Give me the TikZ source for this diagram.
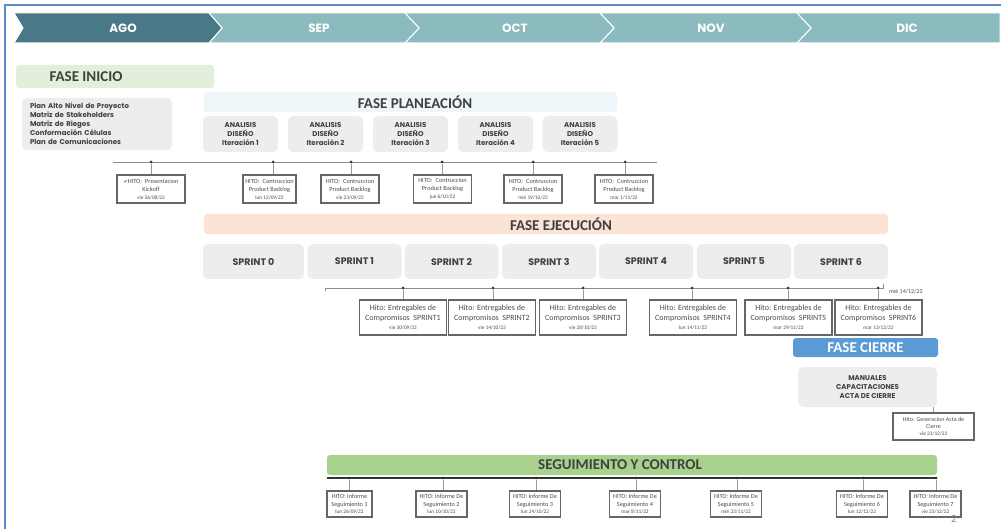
\documentclass[tikz,border=0pt]{standalone}
\usepackage{fontspec}
\setmainfont{Carlito}
\newfontfamily\gothic{Poppins}
\newfontfamily\symfont{DejaVu Sans}
\usepackage{tikz}
\definecolor{agodark}{RGB}{73,120,134}
\definecolor{monthteal}{RGB}{139,187,190}
\definecolor{iniciogreen}{RGB}{226,239,218}
\definecolor{planblue}{RGB}{238,246,250}
\definecolor{ejecpeach}{RGB}{251,227,214}
\definecolor{boxgray}{RGB}{237,237,237}
\definecolor{cierreblue}{RGB}{91,155,213}
\definecolor{seggreen}{RGB}{169,209,142}
\definecolor{titlegray}{RGB}{64,64,64}
\definecolor{frameblue}{RGB}{98,136,204}
\newcommand{\fecha}[1]{{\fontsize{5.3}{6.5}\selectfont #1}}

\begin{document}
\begin{tikzpicture}[x=1pt,y=-1pt,
  month/.style={font=\gothic\bfseries\fontsize{12}{14}\selectfont,text=white},
  bar/.style={rounded corners=3pt,inner sep=0pt},
  phasetitle/.style={font=\bfseries\fontsize{15}{17}\selectfont,text=titlegray,inner sep=0pt},
  gbox/.style={fill=boxgray,rounded corners=5pt,inner sep=0pt,align=center,font=\gothic\bfseries\fontsize{7}{9}\selectfont,text=titlegray},
  sprint/.style={gbox,minimum width=94pt,minimum height=35pt,font=\gothic\bfseries\fontsize{9.5}{11}\selectfont},
  hito/.style={draw=black!60,line width=1.2pt,fill=white,inner sep=0pt,align=center,text=black!70,minimum height=28pt,minimum width=58pt,font=\fontsize{6.3}{8}\selectfont},
  hitoS/.style={hito,minimum width=87pt,minimum height=35pt,font=\fontsize{8}{9.5}\selectfont},
  hitoG/.style={hito,minimum width=51pt,minimum height=26pt,font=\fontsize{6.2}{7.5}\selectfont},
  dot/.style={circle,fill=black!80,inner sep=0pt,minimum size=3pt},
  tline/.style={black!45,line width=0.6pt},
  link/.style={black!40,line width=0.5pt}]
\useasboundingbox (0,0) rectangle (1001,529);
\draw[frameblue,line width=1.2pt] (5,529) -- (5,5) -- (1001,5);
% months
\path[fill=monthteal,draw=white,line width=1pt] (797,13) -- (1000,13) -- (1000,43) -- (797,43) -- (811,28) -- cycle;
\path[fill=monthteal,draw=white,line width=1pt] (600,13) -- (797,13) -- (811,28) -- (797,43) -- (600,43) -- (614,28) -- cycle;
\path[fill=monthteal,draw=white,line width=1pt] (405,13) -- (600,13) -- (614,28) -- (600,43) -- (405,43) -- (419,28) -- cycle;
\path[fill=monthteal,draw=white,line width=1pt] (209,13) -- (405,13) -- (419,28) -- (405,43) -- (209,43) -- (222,28) -- cycle;
\path[fill=agodark,draw=white,line width=1pt] (14,13) -- (209,13) -- (222,28) -- (209,43) -- (14,43) -- (23,28) -- cycle;
\node[month] (ago) at (123,28) {AGO};
\node[month] (sep) at (319,28) {SEP};
\node[month] (oct) at (515,28) {OCT};
\node[month] (nov) at (711,28) {NOV};
\node[month] (dic) at (907,28) {DIC};
% fase inicio
\node[bar,fill=iniciogreen,minimum width=198pt,minimum height=23pt] (inicio) at (115,76.5) {};
\node[phasetitle] (inicioT) at (86,77) {FASE INICIO};
\node[gbox,minimum width=150pt,minimum height=52pt,align=left,text width=134pt] (iniciolist) at (97,124) {Plan Alto Nivel de Proyecto\\Matriz de Stakeholders\\Matriz de Riegos\\Conformación Células\\Plan de Comunicaciones};
% fase planeacion
\node[bar,fill=planblue,minimum width=413pt,minimum height=20pt] (plan) at (410.5,102) {};
\node[phasetitle] (planT) at (415,102) {FASE PLANEACIÓN};
\node[gbox,minimum width=75pt,minimum height=36pt] (it1) at (240.5,134) {ANALISIS\\DISEÑO\\Iteración 1};
\node[gbox,minimum width=75pt,minimum height=36pt] (it2) at (325.5,134) {ANALISIS\\DISEÑO\\Iteración 2};
\node[gbox,minimum width=75pt,minimum height=36pt] (it3) at (410.5,134) {ANALISIS\\DISEÑO\\Iteración 3};
\node[gbox,minimum width=75pt,minimum height=36pt] (it4) at (495.5,134) {ANALISIS\\DISEÑO\\Iteración 4};
\node[gbox,minimum width=75pt,minimum height=36pt] (it5) at (580,134) {ANALISIS\\DISEÑO\\Iteración 5};
\coordinate (planL) at (113,162); \coordinate (planR) at (657,162);
\draw[tline] (planL) -- (planR);
\node[dot] (ph1) at (151,162) {};
\node[dot] (ph2) at (273,162) {};
\node[dot] (ph3) at (351,162) {};
\node[dot] (ph4) at (442,162) {};
\node[dot] (ph5) at (533,162) {};
\node[dot] (ph6) at (625,162) {};
\node[hito,minimum width=68pt] (pb1) at (151,189) {{\symfont\fontsize{5}{6}\selectfont ✔}HITO:\enspace Presentacion\\Kickoff\\\fecha{vie 26/08/22}};
\node[hito,minimum width=53pt] (pb2) at (269.5,189) {HITO:\enspace Contruccion\\Product Backlog\\\fecha{lun 12/09/22}};
\node[hito] (pb3) at (350,189) {HITO:\enspace Contruccion\\Product Backlog\\\fecha{vie 23/09/22}};
\node[hito] (pb4) at (442.5,189) {HITO:\enspace Contruccion\\Product Backlog\\\fecha{jue 6/10/22}};
\node[hito] (pb5) at (533,189) {HITO:\enspace Contruccion\\Product Backlog\\\fecha{mié 19/10/22}};
\node[hito] (pb6) at (624,189) {HITO:\enspace Contruccion\\Product Backlog\\\fecha{mar 1/11/22}};
\draw[link] (ph1) -- (ph1 |- pb1.north); \draw[link] (ph2) -- (ph2 |- pb2.north); \draw[link] (ph3) -- (ph3 |- pb3.north);
\draw[link] (ph4) -- (ph4 |- pb4.north); \draw[link] (ph5) -- (ph5 |- pb5.north); \draw[link] (ph6) -- (ph6 |- pb6.north);
% fase ejecucion
\node[bar,fill=ejecpeach,minimum width=684pt,minimum height=20pt] (ejec) at (546,224) {};
\node[phasetitle] (ejecT) at (561,224) {FASE EJECUCIÓN};
\node[sprint,minimum width=101pt] (s0) at (253.5,261.5) {SPRINT 0};
\node[sprint] (s1) at (354.5,261.5) {SPRINT 1};
\node[sprint] (s2) at (451.5,261.5) {SPRINT 2};
\node[sprint] (s3) at (549,261.5) {SPRINT 3};
\node[sprint] (s4) at (646,261.5) {SPRINT 4};
\node[sprint] (s5) at (744,261.5) {SPRINT 5};
\node[sprint] (s6) at (841,261.5) {SPRINT 6};
\coordinate (sprL0) at (325,291); \coordinate (sprL) at (325,288); \coordinate (sprR) at (883,288); \coordinate (sprR0) at (883,284);
\draw[tline] (sprL0) -- (sprL) -- (sprR) -- (sprR0);
\node[font=\fontsize{6}{7}\selectfont,text=black!70,anchor=west,inner sep=0pt] (sprfin) at (889,292) {mié 14/12/22};
\node[dot] (sd1) at (403,288) {};
\node[dot] (sd2) at (493,288) {};
\node[dot] (sd3) at (583,288) {};
\node[dot] (sd4) at (692,288) {};
\node[dot] (sd5) at (788,288) {};
\node[dot] (sd6) at (878,288) {};
\node[hitoS] (sb1) at (403,317.5) {Hito: Entregables de\\Compromisos\ \ SPRINT1\\\fecha{vie 30/09/22}};
\node[hitoS] (sb2) at (492,317.5) {Hito: Entregables de\\Compromisos\ \ SPRINT2\\\fecha{vie 14/10/22}};
\node[hitoS] (sb3) at (583,317.5) {Hito: Entregables de\\Compromisos\ \ SPRINT3\\\fecha{vie 28/10/22}};
\node[hitoS] (sb4) at (693,317.5) {Hito: Entregables de\\Compromisos\ \ SPRINT4\\\fecha{lun 14/11/22}};
\node[hitoS] (sb5) at (788.5,317.5) {Hito: Entregables de\\Compromisos\ \ SPRINT5\\\fecha{mar 29/11/22}};
\node[hitoS] (sb6) at (878.5,317.5) {Hito: Entregables de\\Compromisos\ \ SPRINT6\\\fecha{mar 13/12/22}};
\draw[link] (sd1) -- (sd1 |- sb1.north); \draw[link] (sd2) -- (sd2 |- sb2.north); \draw[link] (sd3) -- (sd3 |- sb3.north);
\draw[link] (sd4) -- (sd4 |- sb4.north); \draw[link] (sd5) -- (sd5 |- sb5.north); \draw[link] (sd6) -- (sd6 |- sb6.north);
% fase cierre
\node[bar,fill=cierreblue,minimum width=145pt,minimum height=19pt,font=\bfseries\fontsize{15}{17}\selectfont,text=white] (cierre) at (865.5,347.5) {FASE CIERRE};
\node[gbox,minimum width=139pt,minimum height=40pt] (cierrelist) at (867.5,387) {MANUALES\\CAPACITACIONES\\ACTA DE CIERRE};
\node[hito,minimum width=81pt,minimum height=27pt,font=\fontsize{6}{7}\selectfont] (cierrehito) at (933.5,426.5) {Hito: Generacion Acta de\\Cierre\\\fecha{vie 23/12/22}};
\draw[link] (cierrehito.north) -- (cierrehito.north |- cierrelist.south);
% seguimiento y control
\node[bar,fill=seggreen,minimum width=610pt,minimum height=20pt] (seg) at (632,465) {};
\node[phasetitle] (segT) at (620,465) {SEGUIMIENTO Y CONTROL};
\coordinate (segL) at (327,478); \coordinate (segR) at (937,478);
\draw[black!80,line width=1.2pt] (segL) -- (segR);
\node[dot] (gd1) at (349,478) {};
\node[dot] (gd2) at (443,478) {};
\node[dot] (gd3) at (536,478) {};
\node[dot] (gd4) at (636,478) {};
\node[dot] (gd5) at (737,478) {};
\node[dot] (gd6) at (863,478) {};
\node[dot] (gd7) at (936,478) {};
\node[hitoG,minimum width=45pt] (gb1) at (349.5,504) {HITO: Informe\\Seguimiento 1\\\fecha{lun 26/09/22}};
\node[hitoG] (gb2) at (441.5,504) {HITO: Informe De\\Seguimiento 2\\\fecha{lun 10/10/22}};
\node[hitoG] (gb3) at (535,504) {HITO: Informe De\\Seguimiento 3\\\fecha{lun 24/10/22}};
\node[hitoG] (gb4) at (635,504) {HITO: Informe De\\Seguimiento 4\\\fecha{mar 8/11/22}};
\node[hitoG] (gb5) at (736,504) {HITO: Informe De\\Seguimiento 5\\\fecha{mié 23/11/22}};
\node[hitoG] (gb6) at (862,504) {HITO: Informe De\\Seguimiento 6\\\fecha{lun 12/12/22}};
\node[hitoG] (gb7) at (935.5,504) {HITO: Informe De\\Seguimiento 7\\\fecha{vie 23/12/22}};
\draw[link] (gd1) -- (gd1 |- gb1.north); \draw[link] (gd2) -- (gd2 |- gb2.north); \draw[link] (gd3) -- (gd3 |- gb3.north); \draw[link] (gd4) -- (gd4 |- gb4.north);
\draw[link] (gd5) -- (gd5 |- gb5.north); \draw[link] (gd6) -- (gd6 |- gb6.north); \draw[link] (gd7) -- (gd7 |- gb7.north);
\node[text=black!45,font=\fontsize{11}{13}\selectfont] (pagenum) at (954,519) {2};
\end{tikzpicture}
\end{document}
